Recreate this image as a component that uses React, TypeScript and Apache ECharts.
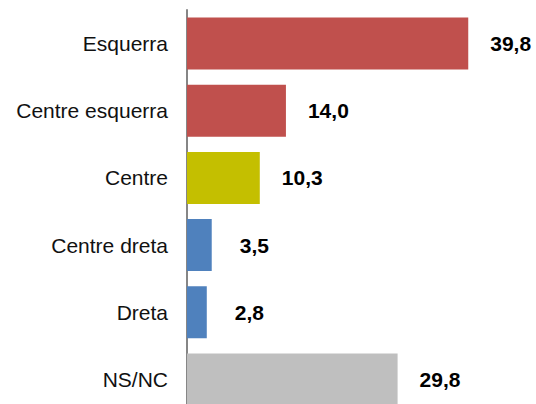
import React, { useEffect, useRef } from "react";
import * as echarts from "echarts";

const categories = ["Esquerra", "Centre esquerra", "Centre", "Centre dreta", "Dreta", "NS/NC"];
const values = [39.8, 14.0, 10.3, 3.5, 2.8, 29.8];
const barColors = ["#C0504D", "#C0504D", "#C4BF00", "#4F81BD", "#4F81BD", "#BFBFBF"];

const FONT = "'Liberation Sans', Arial, Helvetica, sans-serif";

export default function App() {
  const ref = useRef<HTMLDivElement>(null);
  useEffect(() => {
    if (!ref.current) return;
    const chart = echarts.init(ref.current, undefined, { renderer: "svg" });
    chart.setOption({
      animation: false,
      backgroundColor: "#ffffff",
      grid: { left: 187, top: 10, width: 318, height: 403, containLabel: false },
      xAxis: {
        type: "value",
        min: 0,
        max: 45,
        show: false,
      },
      yAxis: {
        type: "category",
        data: categories,
        inverse: true,
        axisTick: { show: false },
        axisLine: { show: true, lineStyle: { color: "#868686", width: 2 } },
        axisLabel: { margin: 19, fontSize: 21, color: "#111111", fontFamily: FONT },
        splitLine: { show: false },
      },
      series: [
        {
          type: "bar",
          barWidth: "77.4%",
          data: values.map((v, i) => ({
            value: v,
            itemStyle: { color: barColors[i] },
            label: { distance: v < 5 ? 28 : 22 },
          })),
          label: {
            show: true,
            position: "right",
            fontSize: 21,
            fontWeight: "bold",
            color: "#000000",
            fontFamily: FONT,
            formatter: (p: any) => p.value.toFixed(1).replace(".", ","),
          },
        },
      ],
    });
    return () => chart.dispose();
  }, []);
  return (
    <div
      style={{
        position: "absolute",
        left: 0,
        top: 0,
        width: 536,
        height: 404,
        overflow: "hidden",
        background: "#ffffff",
      }}
    >
      <div ref={ref} style={{ width: 536, height: 424 }} />
    </div>
  );
}
